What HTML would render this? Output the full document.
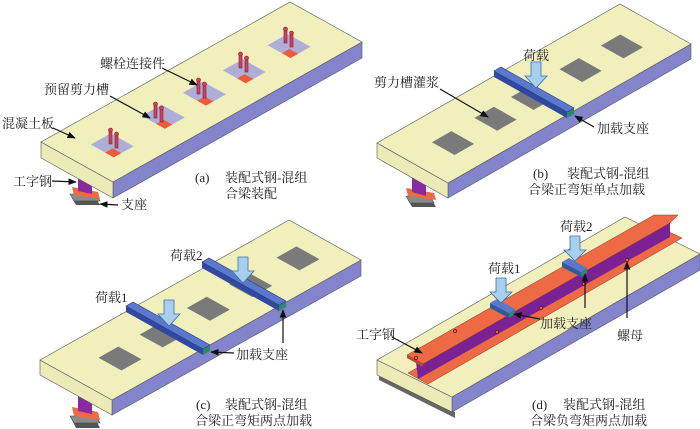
<!DOCTYPE html>
<html><head><meta charset="utf-8"><style>
html,body{margin:0;padding:0;background:#fff}
svg{display:block}
text{font-family:"Liberation Serif","Noto Serif CJK SC","Noto Sans CJK SC",serif;font-size:13px;fill:#222}
</style></head><body>
<svg width="700" height="429" viewBox="0 0 700 429" xmlns="http://www.w3.org/2000/svg">
<defs>
<marker id="ah" viewBox="0 0 10 10" refX="9" refY="5" markerWidth="7" markerHeight="7" orient="auto"><path d="M0,1 L10,5 L0,9 z" fill="#111"/></marker>
</defs>

<!-- ========== (a) ========== -->
<polygon points="72,198 96,198 100,205 76,205" fill="#555"/>
<polygon points="70,194 96,194 100,201 74,201" fill="#8a8a8a" stroke="#444" stroke-width="0.6"/>
<polygon points="72,187 98,192 100,199 74,195" fill="#ee6a45"/>
<polygon points="78,168 92,172 92,194 78,191" fill="#8a2aa0"/>
<polygon points="113,182 362,42 362,58 113,198" fill="#8484cc" stroke="#555" stroke-width="0.6"/>
<polygon points="41,142 113,182 113,198 41,158" fill="#ecebb8" stroke="#555" stroke-width="0.6"/>
<polygon points="41,142 290,2 362,42 113,182" fill="#f1f0bd" stroke="#555" stroke-width="0.6"/>
<g transform="matrix(249,-140,72,40,41,142)">
 <g fill="#aeaed8">
 <polygon points="0.09,0.38 0.17,0.38 0.17,0.7 0.09,0.7"/>
 <polygon points="0.295,0.38 0.375,0.38 0.375,0.7 0.295,0.7"/>
 <polygon points="0.46,0.38 0.54,0.38 0.54,0.7 0.46,0.7"/>
 <polygon points="0.62,0.38 0.7,0.38 0.7,0.7 0.62,0.7"/>
 <polygon points="0.8,0.38 0.88,0.38 0.88,0.7 0.8,0.7"/>
 </g>
 <g fill="#ee5a3a">
 <polygon points="0.09,0.58 0.12,0.58 0.12,0.7 0.09,0.7"/>
 <polygon points="0.295,0.58 0.325,0.58 0.325,0.7 0.295,0.7"/>
 <polygon points="0.46,0.58 0.49,0.58 0.49,0.7 0.46,0.7"/>
 <polygon points="0.62,0.58 0.65,0.58 0.65,0.7 0.62,0.7"/>
 <polygon points="0.8,0.58 0.83,0.58 0.83,0.7 0.8,0.7"/>
 </g>
</g>
<g stroke="#7a2030" stroke-width="0.6" fill="#d04060">
 <rect x="109" y="130" width="3" height="14"/><circle cx="110.5" cy="130" r="2"/>
 <rect x="115" y="134" width="3" height="14"/><circle cx="116.5" cy="134" r="2"/>
 <rect x="154" y="104" width="3" height="14"/><circle cx="155.5" cy="104" r="2"/>
 <rect x="160" y="108" width="3" height="14"/><circle cx="161.5" cy="108" r="2"/>
 <rect x="197" y="80" width="3" height="14"/><circle cx="198.5" cy="80" r="2"/>
 <rect x="203" y="84" width="3" height="14"/><circle cx="204.5" cy="84" r="2"/>
 <rect x="239" y="54" width="3" height="14"/><circle cx="240.5" cy="54" r="2"/>
 <rect x="245" y="58" width="3" height="14"/><circle cx="246.5" cy="58" r="2"/>
 <rect x="284" y="29" width="3" height="14"/><circle cx="285.5" cy="29" r="2"/>
 <rect x="290" y="33" width="3" height="14"/><circle cx="291.5" cy="33" r="2"/>
</g>
<g stroke="#111" stroke-width="1.2" fill="none" marker-end="url(#ah)">
 <line x1="162" y1="68" x2="197" y2="85"/>
 <line x1="110" y1="96" x2="150" y2="118"/>
 <line x1="53" y1="128" x2="75" y2="138"/>
 <line x1="52" y1="181" x2="76" y2="182"/>
 <line x1="118" y1="205" x2="100" y2="204"/>
</g>
<text x="100" y="68">螺栓连接件</text>
<text x="44" y="94">预留剪力槽</text>
<text x="2" y="128">混凝土板</text>
<text x="13" y="186">工字钢</text>
<text x="121" y="209">支座</text>
<text x="195" y="182">(a)</text>
<text x="225" y="182">装配式钢-混组</text>
<text x="225" y="198">合梁装配</text>

<!-- ========== (b) ========== -->
<polygon points="408,200 432,200 436,207 412,207" fill="#555"/>
<polygon points="406,196 430,196 434,203 410,203" fill="#8a8a8a" stroke="#444" stroke-width="0.6"/>
<polygon points="406,188 434,193 436,200 408,196" fill="#ee6a45"/>
<polygon points="412,172 426,176 426,196 412,192" fill="#8a2aa0"/>
<polygon points="448,183 691,44 691,59 448,198" fill="#8484cc" stroke="#555" stroke-width="0.6"/>
<polygon points="377,143 448,183 448,198 377,158" fill="#ecebb8" stroke="#555" stroke-width="0.6"/>
<polygon points="377,143 620,4 691,44 448,183" fill="#f1f0bd" stroke="#555" stroke-width="0.6"/>
<g transform="matrix(243,-139,71,40,377,143)" fill="#7a7a7a">
 <polygon points="0.115,0.38 0.195,0.38 0.195,0.7 0.115,0.7"/>
 <polygon points="0.29,0.38 0.37,0.38 0.37,0.7 0.29,0.7"/>
 <polygon points="0.44,0.38 0.52,0.38 0.52,0.7 0.44,0.7"/>
 <polygon points="0.64,0.38 0.72,0.38 0.72,0.7 0.64,0.7"/>
 <polygon points="0.81,0.38 0.89,0.38 0.89,0.7 0.81,0.7"/>
</g>
<polygon points="494,71 567,112 567,118 494,77" fill="#3048a0"/>
<polygon points="567,112 574,108 574,114 567,118" fill="#2a8a70"/>
<polygon points="494,71 501,67 574,108 567,112" fill="#5a78cc" stroke="#2a3a80" stroke-width="0.6"/>
<polygon points="531,62 541,62 541,76 547,76 536,88 525,76 531,76" fill="#a8d0ee" stroke="#3a70a8" stroke-width="0.8"/>
<g stroke="#111" stroke-width="1.2" fill="none" marker-end="url(#ah)">
 <line x1="440" y1="89" x2="488" y2="117"/>
 <line x1="594" y1="127" x2="575" y2="116"/>
</g>
<text x="523" y="60">荷载</text>
<text x="374" y="87">剪力槽灌浆</text>
<text x="597" y="133">加载支座</text>
<text x="533" y="178">(b)</text>
<text x="567" y="178">装配式钢-混组</text>
<text x="528" y="194">合梁正弯矩单点加载</text>

<!-- ========== (c) ========== -->
<polygon points="72,420 96,420 100,428 76,428" fill="#555"/>
<polygon points="70,416 96,416 100,423 74,423" fill="#8a8a8a" stroke="#444" stroke-width="0.6"/>
<polygon points="72,407 98,412 100,420 74,416" fill="#ee6a45"/>
<polygon points="78,386 92,390 92,414 78,411" fill="#8a2aa0"/>
<polygon points="112,400 361,260 361,276 112,415" fill="#8484cc" stroke="#555" stroke-width="0.6"/>
<polygon points="40,360 112,400 112,415 40,375" fill="#ecebb8" stroke="#555" stroke-width="0.6"/>
<polygon points="40,360 289,220 361,260 112,400" fill="#f1f0bd" stroke="#555" stroke-width="0.6"/>
<g transform="matrix(249,-140,72,40,40,360)" fill="#7a7a7a">
 <polygon points="0.125,0.38 0.205,0.38 0.205,0.7 0.125,0.7"/>
 <polygon points="0.29,0.38 0.37,0.38 0.37,0.7 0.29,0.7"/>
 <polygon points="0.48,0.38 0.56,0.38 0.56,0.7 0.48,0.7"/>
 <polygon points="0.65,0.38 0.73,0.38 0.73,0.7 0.65,0.7"/>
 <polygon points="0.84,0.38 0.92,0.38 0.92,0.7 0.84,0.7"/>
</g>
<polygon points="126,306 203,349 203,355 126,312" fill="#3048a0"/>
<polygon points="203,349 210,345 210,351 203,355" fill="#2a8a70"/>
<polygon points="126,306 133,302 210,345 203,349" fill="#5a78cc" stroke="#2a3a80" stroke-width="0.6"/>
<polygon points="202,262 279,305 279,311 202,268" fill="#3048a0"/>
<polygon points="279,305 286,301 286,307 279,311" fill="#2a8a70"/>
<polygon points="202,262 209,258 286,301 279,305" fill="#5a78cc" stroke="#2a3a80" stroke-width="0.6"/>
<polygon points="164,300 174,300 174,314 180,314 169,326 158,314 164,314" fill="#a8d0ee" stroke="#3a70a8" stroke-width="0.8"/>
<polygon points="238,257 248,257 248,271 254,271 243,283 232,271 238,271" fill="#a8d0ee" stroke="#3a70a8" stroke-width="0.8"/>
<g stroke="#111" stroke-width="1.2" fill="none" marker-end="url(#ah)">
 <line x1="234" y1="353" x2="211" y2="352"/>
 <line x1="283" y1="343" x2="283" y2="310"/>
</g>
<text x="170" y="260">荷载2</text>
<text x="95" y="302">荷载1</text>
<text x="236" y="359">加载支座</text>
<text x="196" y="409">(c)</text>
<text x="225" y="409">装配式钢-混组</text>
<text x="195" y="425">合梁正弯矩两点加载</text>

<!-- ========== (d) ========== -->
<polygon points="379,374 455,412 455,418 379,380" fill="#666"/>
<polygon points="684,267 700,262 700,270 686,274" fill="#666"/>
<polygon points="452,397 700,254 700,270 452,412" fill="#8484cc" stroke="#555" stroke-width="0.6"/>
<polygon points="377,360 452,397 452,412 377,375" fill="#ecebb8" stroke="#555" stroke-width="0.6"/>
<polygon points="377,360 625,217 700,254 452,397" fill="#f1f0bd" stroke="#555" stroke-width="0.6"/>
<polygon points="408,373 665,230 682,238 428,384" fill="#ee6a45" stroke="#8a3020" stroke-width="0.5"/>
<polygon points="416,362 670,220 670,237 418,379" fill="#7a2294"/>
<polygon points="407,355 423,364 423,367 407,358" fill="#c04a30"/>
<polygon points="407,355 654,215 678,215 670,223 423,364" fill="#ee6a45" stroke="#8a3020" stroke-width="0.5"/>
<g fill="#ee6a45" stroke="#5a1010" stroke-width="0.7">
 <circle cx="455" cy="331" r="1.6"/><circle cx="497" cy="332" r="1.6"/>
 <circle cx="416" cy="358" r="1.6"/><circle cx="541" cy="308" r="1.6"/>
 <circle cx="584" cy="284" r="1.6"/><circle cx="627" cy="260" r="1.6"/>
</g>
<polygon points="490,303 509,313 509,318 490,308" fill="#2f5aa0"/>
<polygon points="509,313 515,309 515,314 509,318" fill="#2a8a70"/>
<polygon points="490,303 497,299 515,309 509,313" fill="#5a78cc"/>
<polygon points="562,262 581,272 581,277 562,267" fill="#2f5aa0"/>
<polygon points="581,272 587,268 587,273 581,277" fill="#2a8a70"/>
<polygon points="562,262 569,258 587,268 581,272" fill="#5a78cc"/>
<polygon points="496,278 506,278 506,292 512,292 501,303 490,292 496,292" fill="#a8d0ee" stroke="#3a70a8" stroke-width="0.8"/>
<polygon points="570,236 580,236 580,250 586,250 575,261 564,250 570,250" fill="#a8d0ee" stroke="#3a70a8" stroke-width="0.8"/>
<g stroke="#111" stroke-width="1.2" fill="none" marker-end="url(#ah)">
 <line x1="540" y1="319" x2="514" y2="314"/>
 <line x1="585" y1="308" x2="585" y2="274"/>
 <line x1="627" y1="318" x2="627" y2="262"/>
 <line x1="392" y1="337" x2="422" y2="353"/>
</g>
<text x="560" y="231">荷载2</text>
<text x="488" y="273">荷载1</text>
<text x="540" y="328">加载支座</text>
<text x="617" y="340">螺母</text>
<text x="356" y="339">工字钢</text>
<text x="532" y="409">(d)</text>
<text x="563" y="409">装配式钢-混组</text>
<text x="530" y="425">合梁负弯矩两点加载</text>
</svg>
</body></html>
